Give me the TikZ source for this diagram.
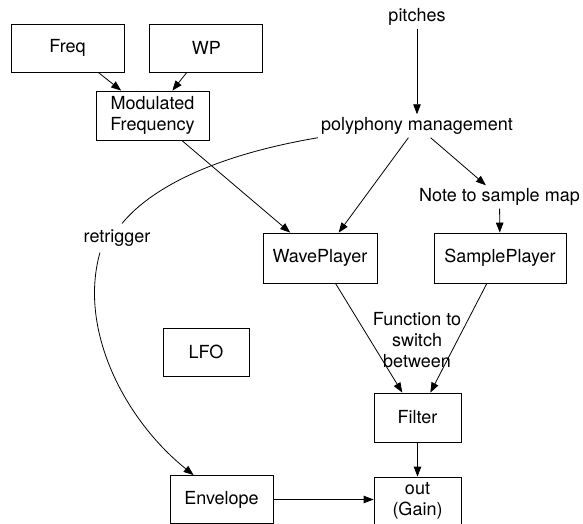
\documentclass[tikz,border=0pt]{standalone}
\usepackage{fontspec}
\setmainfont{TeX Gyre Heros}
\usepackage{tikz}
\usetikzlibrary{arrows.meta, positioning}
\tikzset{
  caja/.style={rectangle, draw=black, line width=0.8pt, fill=white,
    minimum width=113pt, minimum height=48pt, align=center, inner sep=2pt,
    font=\fontsize{18}{21}\selectfont},
  etiq/.style={align=center, inner sep=3pt, font=\fontsize{18}{21}\selectfont},
  flecha/.style={-{Triangle[length=10pt, width=7.5pt]}, line width=0.8pt, color=black},
  linea/.style={line width=0.8pt, color=black}
}
\begin{document}
\begin{tikzpicture}[x=1pt, y=-1pt]
  \useasboundingbox (0,0) rectangle (583,524);
  % top row
  \node[caja] (freq) at (67.5,48) {Freq};
  \node[caja, right=25pt of freq] (wp) {WP};
  \node[caja, minimum height=49pt] (modfreq) at (152.5,115.5) {Modulated\\Frequency};
  \node[etiq] (pitches) at (417,17) {pitches};
  \node[etiq] (poly) at (417,126) {polyphony management};
  \node[etiq] (note) at (499.5,197) {Note to sample map};
  % players
  \node[caja, minimum width=114pt, minimum height=50pt] (wave) at (320,258) {WavePlayer};
  \node[caja, minimum width=132pt, minimum height=50pt] (sample) at (500,258) {SamplePlayer};
  \node[etiq] (func) at (417,340) {Function to\\switch\\between};
  \node[caja, minimum width=86pt] (lfo) at (206,352) {LFO};
  \node[etiq, inner sep=6pt] (retrig) at (117,238) {retrigger};
  % output chain
  \node[caja, minimum width=87pt, minimum height=49pt] (filter) at (417.5,417.5) {Filter};
  \node[caja, minimum width=103pt] (env) at (221.5,499.5) {Envelope};
  \node[caja, minimum width=87pt] (out) at (417.5,501) {out\\(Gain)};
  \draw[flecha] (freq) -- (modfreq);
  \draw[flecha] (wp) -- (modfreq);
  \draw[flecha] (modfreq) -- (wave);
  \draw[flecha] (pitches) -- (poly);
  \draw[flecha] (poly) -- (wave);
  \draw[flecha] (poly) -- (note);
  \draw[flecha] (note) -- (sample);
  \draw[flecha] (wave) -- (filter);
  \draw[flecha] (sample) -- (filter);
  \draw[flecha] (filter) -- (out);
  \draw[flecha] (env) -- (env -| out.west);
  % retrigger curve
  \draw[linea] (poly.south west) .. controls (216,155) and (152,187) .. ([xshift=5pt]retrig.north);
  \draw[flecha] ([xshift=-17pt]retrig.south) .. controls (78,330) and (125,420) .. ([xshift=24pt]env.north west);
\end{tikzpicture}
\end{document}
